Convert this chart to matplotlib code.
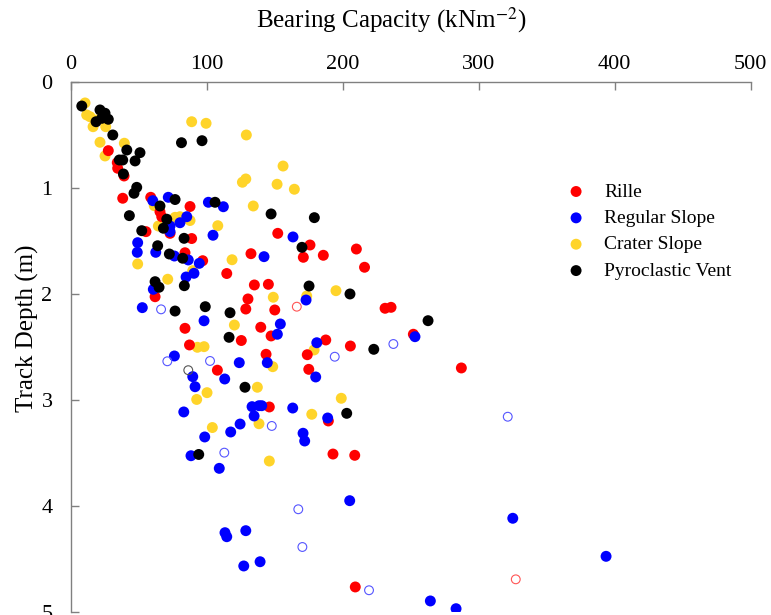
import matplotlib
matplotlib.use("Agg")
import matplotlib.pyplot as plt

plt.rcParams['font.family'] = ['Liberation Serif', 'DejaVu Serif']
plt.rcParams['mathtext.fontset'] = 'stix'

# Bearing capacity (kN/m^2) vs track depth (m)
rille_x = [27.7, 34.3, 34.6, 39.3, 38.3, 58.9, 87.8, 65.7, 67.0, 55.4, 73.1, 89.0, 84.1, 97.1,
           62.1, 84.1, 87.4, 152.3, 176.0, 210.1, 171.1, 185.8, 132.6, 114.8, 216.1, 135.1,
           145.4, 130.4, 128.8, 150.1, 139.8, 147.4, 125.5, 187.6, 174.0, 205.7, 143.7, 107.9,
           175.1, 146.1, 189.5, 192.9, 208.9, 231.2, 235.6, 252.0, 287.3, 209.3]
rille_y = [0.645, 0.758, 0.811, 0.884, 1.094, 1.085, 1.172, 1.221, 1.268, 1.409, 1.425, 1.474,
           1.608, 1.683, 2.023, 2.321, 2.478, 1.425, 1.535, 1.573, 1.651, 1.632, 1.617, 1.804,
           1.745, 1.912, 1.906, 2.044, 2.139, 2.148, 2.311, 2.393, 2.436, 2.431, 2.570, 2.488,
           2.566, 2.716, 2.708, 3.063, 3.195, 3.507, 3.519, 2.132, 2.123, 2.377, 2.695, 4.761]
rille_open_x = [166.3, 327.3]
rille_open_y = [2.117, 4.689]

regular_x = [60.4, 71.8, 85.4, 80.4, 73.1, 73.1, 49.3, 49.0, 62.6, 76.3, 86.5, 94.6, 90.7,
             84.9, 60.8, 52.7, 98.1, 101.3, 112.3, 104.7, 163.5, 142.2, 173.1, 154.2, 152.0,
             181.0, 180.2, 124.0, 144.6, 89.8, 91.5, 113.3, 83.2, 133.4, 138.5, 140.5, 134.9,
             163.3, 189.0, 124.6, 117.7, 98.6, 170.9, 172.1, 88.5, 76.3, 109.3, 253.2, 205.2,
             325.1, 113.5, 114.8, 128.8, 393.7, 127.3, 139.3, 264.5, 283.4]
regular_y = [1.117, 1.085, 1.268, 1.325, 1.356, 1.409, 1.513, 1.604, 1.604, 1.639, 1.676, 1.708,
             1.802, 1.837, 1.953, 2.126, 2.250, 1.132, 1.174, 1.443, 1.459, 1.645, 2.054, 2.280,
             2.377, 2.457, 2.780, 2.645, 2.645, 2.777, 2.872, 2.799, 3.110, 3.060, 3.051, 3.051,
             3.148, 3.073, 3.167, 3.224, 3.299, 3.346, 3.311, 3.384, 3.523, 2.582, 3.642, 2.400,
             3.947, 4.113, 4.249, 4.287, 4.230, 4.472, 4.563, 4.523, 4.893, 4.966]
regular_open_x = [66.5, 71.1, 102.5, 194.2, 147.9, 113.0, 237.3, 321.4, 167.4, 170.4, 219.4]
regular_open_y = [2.142, 2.632, 2.629, 2.589, 3.242, 3.494, 2.469, 3.155, 4.028, 4.384, 4.792]

crater_x = [10.6, 11.8, 14.3, 16.5, 19.2, 25.8, 21.6, 39.5, 25.3, 61.5, 89.0, 99.6, 129.2,
            156.2, 128.8, 126.3, 151.8, 164.5, 134.3, 76.8, 80.4, 87.8, 64.5, 108.2, 49.3,
            89.8, 71.4, 118.7, 93.2, 98.1, 149.0, 173.6, 195.1, 120.4, 179.0, 148.6, 137.3,
            100.3, 92.7, 199.0, 177.3, 104.2, 138.5, 146.1]
crater_y = [0.195, 0.308, 0.325, 0.419, 0.356, 0.419, 0.566, 0.575, 0.695, 1.164, 0.372, 0.387,
            0.497, 0.790, 0.912, 0.943, 0.962, 1.009, 1.167, 1.274, 1.268, 1.304, 1.356, 1.353,
            1.714, 1.777, 1.858, 1.674, 2.500, 2.494, 2.028, 2.016, 1.966, 2.290, 2.525, 2.683,
            2.877, 2.928, 2.992, 2.981, 3.132, 3.257, 3.221, 3.573]

vent_x = [8.2, 21.6, 25.3, 27.7, 18.7, 22.9, 31.0, 41.3, 51.0, 38.3, 35.8, 47.4, 38.8, 48.6,
          46.6, 65.7, 76.8, 81.5, 96.6, 43.2, 70.7, 68.2, 52.3, 83.4, 64.0, 72.6, 82.4, 62.1,
          65.0, 83.6, 76.8, 99.0, 106.2, 147.4, 179.2, 170.1, 175.3, 205.4, 117.2, 116.5,
          222.9, 128.2, 203.0, 94.2, 262.8]
vent_y = [0.224, 0.261, 0.292, 0.349, 0.372, 0.340, 0.497, 0.639, 0.664, 0.733, 0.733, 0.742,
          0.865, 0.991, 1.047, 1.167, 1.106, 0.570, 0.551, 1.258, 1.292, 1.377, 1.400, 1.472,
          1.542, 1.620, 1.660, 1.881, 1.934, 1.919, 2.158, 2.117, 1.132, 1.242, 1.277, 1.557,
          1.922, 1.997, 2.174, 2.406, 2.519, 2.877, 3.123, 3.511, 2.249]
vent_open_x = [86.5]
vent_open_y = [2.716]

fig = plt.figure(figsize=(7.71, 6.15), dpi=100)
ax = fig.add_axes([0.0916, 0.0044, 0.882, 0.8618])

s_fill = 62
s_open = 40
ax.scatter(crater_x, crater_y, s=s_fill, color='#FFD42A', edgecolors='none', label='Crater Slope', zorder=2)
ax.scatter(rille_x, rille_y, s=s_fill, color='#FF0000', edgecolors='none', label='Rille', zorder=3)
ax.scatter(regular_x, regular_y, s=s_fill, color='#0000FF', edgecolors='none', label='Regular Slope', zorder=4)
ax.scatter(vent_x, vent_y, s=s_fill, color='#000000', edgecolors='none', label='Pyroclastic Vent', zorder=5)

ax.scatter(rille_open_x, rille_open_y, s=s_open, facecolors='none', edgecolors='#FF5555', linewidths=0.8, zorder=3)
ax.scatter(regular_open_x, regular_open_y, s=s_open, facecolors='none', edgecolors='#5555FF', linewidths=0.8, zorder=4)
ax.scatter(vent_open_x, vent_open_y, s=s_open, facecolors='none', edgecolors='#555555', linewidths=0.8, zorder=5)

ax.set_xlim(0, 500)
ax.set_ylim(5, 0)
ax.xaxis.tick_top()
ax.xaxis.set_label_position('top')
ax.set_xticks([0, 100, 200, 300, 400, 500])
ax.set_yticks([0, 1, 2, 3, 4, 5])

for side in ['right', 'bottom']:
    ax.spines[side].set_visible(False)
for side in ['left', 'top']:
    ax.spines[side].set_color('#808080')
    ax.spines[side].set_linewidth(1.0)

ax.tick_params(axis='both', direction='in', length=6, width=1, color='#808080', labelsize=16)
ax.tick_params(axis='x', pad=6)
ax.tick_params(axis='y', pad=13)

ax.set_xlabel('Bearing Capacity (kNm$^{-2}$)', fontsize=18)
ax.set_ylabel('Track Depth (m)', fontsize=18)
ax.xaxis.set_label_coords(0.471, 1.104)
ax.yaxis.set_label_coords(-0.046, 0.536)

handles, labels = ax.get_legend_handles_labels()
order = [1, 2, 0, 3]
ax.legend([handles[i] for i in order], [labels[i] for i in order],
          loc='upper left', bbox_to_anchor=(0.729, 0.810), frameon=False,
          fontsize=14, handlelength=1.0, handletextpad=0.95, labelspacing=0.45,
          borderpad=0, borderaxespad=0)

fig.savefig('out.png', dpi=100)
